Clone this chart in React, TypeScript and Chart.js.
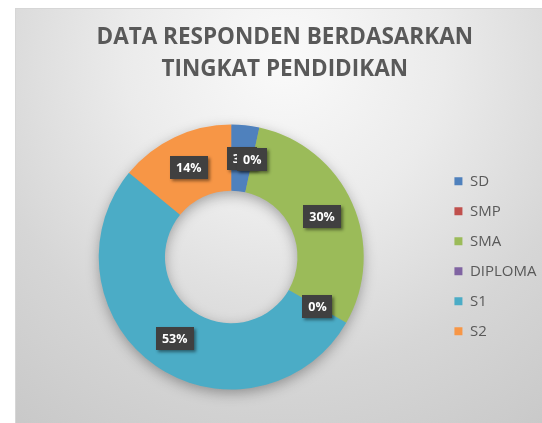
import React, { useEffect, useRef } from 'react';
import { Chart, registerables } from 'chart.js';

Chart.register(...registerables);

const categories = ['SD', 'SMP', 'SMA', 'DIPLOMA', 'S1', 'S2'];
const values = [3.4, 0, 29.8, 0, 52.6, 14.0];
const colors = ['#4F81BD', '#C0504D', '#9BBB59', '#8064A2', '#4BACC6', '#F79646'];
const titleLines = ['DATA RESPONDEN BERDASARKAN', 'TINGKAT PENDIDIKAN'];

const CW = 537;
const CH = 420;

const ringShadow = {
  id: 'ringShadow',
  beforeDatasetsDraw(chart: any) {
    const meta = chart.getDatasetMeta(0);
    const arc = meta.data[0];
    if (!arc) return;
    const p = arc.getProps(['x', 'y', 'innerRadius', 'outerRadius'], true);
    const ctx = chart.ctx;
    ctx.save();
    ctx.shadowColor = 'rgba(0,0,0,0.35)';
    ctx.shadowBlur = 14;
    ctx.shadowOffsetY = 4;
    ctx.fillStyle = '#9a9a9a';
    ctx.beginPath();
    ctx.arc(p.x, p.y, p.outerRadius - 1, 0, Math.PI * 2);
    ctx.arc(p.x, p.y, p.innerRadius + 1, 0, Math.PI * 2, true);
    ctx.fill();
    ctx.restore();
  },
};

const boxLabels = {
  id: 'boxLabels',
  afterDatasetsDraw(chart: any) {
    const meta = chart.getDatasetMeta(0);
    const ctx = chart.ctx;
    const total = values.reduce((a, b) => a + b, 0);
    meta.data.forEach((el: any, i: number) => {
      const p = el.getProps(['x', 'y', 'startAngle', 'endAngle', 'innerRadius', 'outerRadius'], true);
      const mid = (p.startAngle + p.endAngle) / 2;
      const r = (p.innerRadius + p.outerRadius) / 2;
      const cx = p.x + Math.cos(mid) * r;
      const cy = p.y + Math.sin(mid) * r;
      const text = Math.round((values[i] / total) * 100) + '%';
      ctx.save();
      ctx.font = 'bold 12.5px "Open Sans"';
      const w = ctx.measureText(text).width + 12;
      const h = 23;
      ctx.shadowColor = 'rgba(0,0,0,0.45)';
      ctx.shadowBlur = 3;
      ctx.shadowOffsetX = 2;
      ctx.shadowOffsetY = 2;
      ctx.fillStyle = '#404040';
      ctx.fillRect(Math.round(cx - w / 2), Math.round(cy - h / 2), Math.round(w), h);
      ctx.shadowColor = 'transparent';
      ctx.fillStyle = '#ffffff';
      ctx.textAlign = 'center';
      ctx.textBaseline = 'middle';
      ctx.fillText(text, cx, cy + 1);
      ctx.restore();
    });
  },
};

export default function App() {
  const ref = useRef<HTMLCanvasElement | null>(null);

  useEffect(() => {
    if (!ref.current) return;
    const chart = new Chart(ref.current, {
      type: 'doughnut',
      data: {
        labels: categories,
        datasets: [
          {
            data: values,
            backgroundColor: colors,
            borderWidth: 0,
          },
        ],
      },
      options: {
        responsive: false,
        animation: false,
        cutout: '50%',
        layout: { padding: { left: 7, right: 6.5, top: 0, bottom: 39.5 } },
        plugins: {
          title: {
            display: true,
            text: titleLines,
            color: '#595959',
            font: { family: 'Open Sans', size: 22.5, weight: 'bold', lineHeight: 1.42 },
            padding: { top: 13, bottom: 38.6 },
          },
          legend: {
            position: 'right',
            title: {
              display: true,
              text: '',
              font: { size: 10, lineHeight: 1 },
              padding: { top: 104, bottom: 0 },
            },
            labels: {
              boxWidth: 8,
              boxHeight: 8,
              padding: 15,
              color: '#595959',
              font: { family: 'Open Sans', size: 15 },
            },
          },
          tooltip: { enabled: false },
        },
      },
      plugins: [ringShadow, boxLabels],
    });
    return () => chart.destroy();
  }, []);

  return (
    <div style={{ position: 'fixed', left: 0, top: 0, width: 542, height: 423, overflow: 'hidden', background: '#ffffff' }}>
      <div
        style={{
          position: 'absolute',
          left: 15,
          top: 8,
          width: CW,
          height: CH,
          borderTop: '1px solid #d6d6d6',
          borderLeft: '1px solid #d6d6d6',
          background: 'radial-gradient(circle at 50% 12%, #fafafa 0%, #ebebeb 35%, #d6d6d6 68%, #c8c8c8 100%)',
        }}
      >
        <canvas ref={ref} width={CW} height={CH} style={{ display: 'block' }} />
      </div>
    </div>
  );
}
